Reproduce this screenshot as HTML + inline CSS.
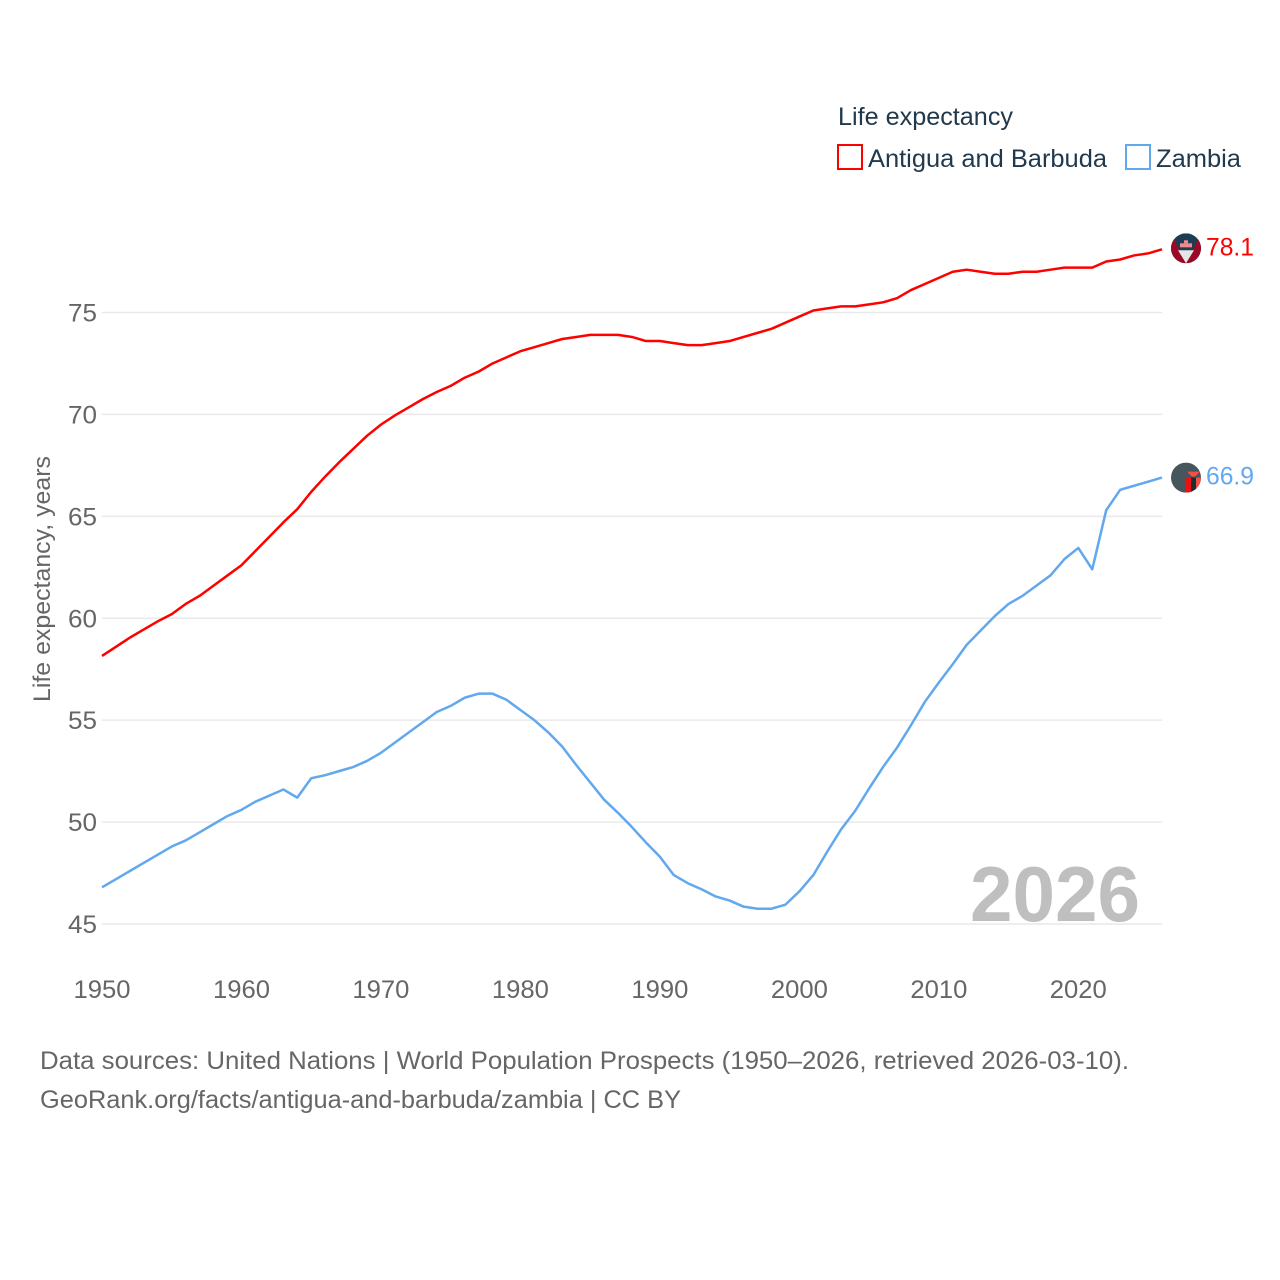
<!DOCTYPE html>
<html lang="en">
<head>
<meta charset="utf-8">
<title>Life expectancy: Antigua and Barbuda vs Zambia</title>
<style>
html,body{margin:0;padding:0;background:#fff;}
svg{display:block;}
text{font-family:"Liberation Sans",sans-serif;}
</style>
</head>
<body>
<svg id="chart" xmlns="http://www.w3.org/2000/svg" width="1280" height="1280" viewBox="0 0 1280 1280">
  <rect width="1280" height="1280" fill="#fff"/>
  <defs>
    <clipPath id="flag-clip-ag"><circle id="clip-ag" r="15"/></clipPath>
    <clipPath id="flag-clip-zm"><circle id="clip-zm" r="15"/></clipPath>
  </defs>
  <g id="grid"></g>
  <g id="y-ticks"></g>
  <g id="x-ticks"></g>
  <text x="970" y="921" font-size="78" font-weight="bold" fill="#bfbfbf" textLength="170" lengthAdjust="spacingAndGlyphs">2026</text>
  <text transform="translate(50,702) rotate(-90)" font-size="24" fill="#666" textLength="246" lengthAdjust="spacingAndGlyphs">Life expectancy, years</text>
  <g id="series"></g>
  <g id="flags"></g>
  <g>
    <text x="838" y="125" font-size="25" fill="#21394c" textLength="175" lengthAdjust="spacingAndGlyphs">Life expectancy</text>
    <rect x="838" y="145" width="24" height="24" fill="#fff" stroke="#ff0000" stroke-width="2"/>
    <text x="868" y="167" font-size="25" fill="#21394c" textLength="239" lengthAdjust="spacingAndGlyphs">Antigua and Barbuda</text>
    <rect x="1126" y="145" width="24" height="24" fill="#fff" stroke="#62a8ee" stroke-width="2"/>
    <text x="1156" y="167" font-size="25" fill="#21394c" textLength="85" lengthAdjust="spacingAndGlyphs">Zambia</text>
  </g>
  <text x="40" y="1069" font-size="25" fill="#666" textLength="1089" lengthAdjust="spacingAndGlyphs">Data sources: United Nations | World Population Prospects (1950–2026, retrieved 2026-03-10).</text>
  <text x="40" y="1108" font-size="25" fill="#666" textLength="641" lengthAdjust="spacingAndGlyphs">GeoRank.org/facts/antigua-and-barbuda/zambia | CC BY</text>
</svg>
<script>
const startYear = 1950;
const xTickYears = [1950, 1960, 1970, 1980, 1990, 2000, 2010, 2020];
const yTickValues = [45, 50, 55, 60, 65, 70, 75];
const antiguaValues = [
  58.15, 58.6, 59.05, 59.45, 59.85, 60.2, 60.7, 61.1, 61.6, 62.1,
  62.6, 63.3, 64.0, 64.7, 65.35, 66.2, 66.95, 67.65, 68.3, 68.95,
  69.5, 69.95, 70.35, 70.75, 71.1, 71.4, 71.8, 72.1, 72.5, 72.8,
  73.1, 73.3, 73.5, 73.7, 73.8, 73.9, 73.9, 73.9, 73.8, 73.6,
  73.6, 73.5, 73.4, 73.4, 73.5, 73.6, 73.8, 74.0, 74.2, 74.5,
  74.8, 75.1, 75.2, 75.3, 75.3, 75.4, 75.5, 75.7, 76.1, 76.4,
  76.7, 77.0, 77.1, 77.0, 76.9, 76.9, 77.0, 77.0, 77.1, 77.2,
  77.2, 77.2, 77.5, 77.6, 77.8, 77.9, 78.1
];
const zambiaValues = [
  46.8, 47.2, 47.6, 48.0, 48.4, 48.8, 49.1, 49.5, 49.9, 50.3,
  50.6, 51.0, 51.3, 51.6, 51.2, 52.15, 52.3, 52.5, 52.7, 53.0,
  53.4, 53.9, 54.4, 54.9, 55.4, 55.7, 56.1, 56.3, 56.3, 56.0,
  55.5, 55.0, 54.4, 53.7, 52.8, 51.95, 51.1, 50.45, 49.75, 49.0,
  48.3, 47.4, 47.0, 46.7, 46.35, 46.15, 45.85, 45.75, 45.75, 45.95,
  46.6, 47.4, 48.55, 49.65, 50.55, 51.65, 52.7, 53.65, 54.75, 55.9,
  56.85, 57.75, 58.7, 59.4, 60.1, 60.7, 61.1, 61.6, 62.1, 62.9,
  63.45, 62.4, 65.3, 66.3, 66.5, 66.7, 66.9
];
const antiguaLabel = "78.1";
const zambiaLabel = "66.9";

const NS = "http://www.w3.org/2000/svg";
const xScale = function (year) { return 102 + (year - 1950) * (1162 - 102) / 76; };
const yScale = function (v) { return 924 - (v - 45) * (924 - 312.5) / 30; };

function make(tag, attrs, parent) {
  const el = document.createElementNS(NS, tag);
  for (const k in attrs) { el.setAttribute(k, attrs[k]); }
  parent.appendChild(el);
  return el;
}

const grid = document.getElementById("grid");
const yTicks = document.getElementById("y-ticks");
const xTicks = document.getElementById("x-ticks");
const series = document.getElementById("series");
const flags = document.getElementById("flags");

yTickValues.forEach(function (v) {
  const line = make("line", { x1: 102, x2: 1162, y1: yScale(v), y2: yScale(v), stroke: "#e9e9e9", "stroke-width": 1.5 }, grid);
  
  
  const t = make("text", { x: 97, y: yScale(v) + 9, "text-anchor": "end", "font-size": 25, fill: "#666", textLength: 29, lengthAdjust: "spacingAndGlyphs" }, yTicks);
  
  
  t.textContent = String(v);
});

xTickYears.forEach(function (y) {
  const t = make("text", { x: xScale(y), y: 998, "text-anchor": "middle", "font-size": 25, fill: "#666", textLength: 57, lengthAdjust: "spacingAndGlyphs" }, xTicks);
  
  
  t.textContent = String(y);
});

function linePath(values) {
  return values.map(function (v, i) {
    return (i ? "L" : "M") + xScale(startYear + i).toFixed(2) + " " + yScale(v).toFixed(2);
  }).join(" ");
}

const antiguaLine = make("path", { d: linePath(antiguaValues), fill: "none", stroke: "#ff0000", "stroke-width": 2.5, "stroke-linejoin": "round" }, series);



const zambiaLine = make("path", { d: linePath(zambiaValues), fill: "none", stroke: "#62a8ee", "stroke-width": 2.5, "stroke-linejoin": "round" }, series);



const cx = 1186;
const agY = yScale(antiguaValues[antiguaValues.length - 1]) - 1;
const zmY = yScale(zambiaValues[zambiaValues.length - 1]);
document.getElementById("clip-ag").setAttribute("cx", cx);
document.getElementById("clip-ag").setAttribute("cy", agY);
document.getElementById("clip-zm").setAttribute("cx", cx);
document.getElementById("clip-zm").setAttribute("cy", zmY);

const agFlag = make("g", { "clip-path": "url(#flag-clip-ag)" }, flags);


make("rect", { x: cx - 15, y: agY - 15, width: 30, height: 30, fill: "#1e3d52" }, agFlag);
make("polygon", { points: (cx - 15) + "," + (agY - 15) + " " + cx + "," + (agY + 15) + " " + (cx - 15) + "," + (agY + 15), fill: "#9a0a26" }, agFlag);
make("polygon", { points: (cx + 15) + "," + (agY - 15) + " " + cx + "," + (agY + 15) + " " + (cx + 15) + "," + (agY + 15), fill: "#9a0a26" }, agFlag);
make("rect", { x: cx - 6, y: agY - 5, width: 12, height: 4, fill: "#f08a8a" }, agFlag);
make("rect", { x: cx - 2, y: agY - 8, width: 4, height: 3, fill: "#f08a8a" }, agFlag);
make("polygon", { points: (cx - 8) + "," + (agY + 2) + " " + (cx + 8) + "," + (agY + 2) + " " + cx + "," + (agY + 15), fill: "#e6e6e6" }, agFlag);

const zmFlag = make("g", { "clip-path": "url(#flag-clip-zm)" }, flags);


make("rect", { x: cx - 15, y: zmY - 15, width: 30, height: 30, fill: "#47565c" }, zmFlag);
make("rect", { x: cx, y: zmY, width: 5, height: 15, fill: "#f01010" }, zmFlag);
make("rect", { x: cx + 5, y: zmY, width: 5, height: 15, fill: "#1c2c38" }, zmFlag);
make("rect", { x: cx + 10, y: zmY, width: 5, height: 15, fill: "#f0524a" }, zmFlag);
make("polygon", { points: (cx + 1) + "," + (zmY - 6) + " " + (cx + 14) + "," + (zmY - 6) + " " + (cx + 9) + "," + (zmY - 1) + " " + (cx + 6) + "," + (zmY - 1), fill: "#f0524a" }, zmFlag);

const agLabel = make("text", { x: 1206, y: agY + 7, "font-size": 25, fill: "#ff0000", textLength: 48, lengthAdjust: "spacingAndGlyphs" }, flags);


agLabel.textContent = antiguaLabel;

const zmLabel = make("text", { x: 1206, y: zmY + 7, "font-size": 25, fill: "#62a8ee", textLength: 48, lengthAdjust: "spacingAndGlyphs" }, flags);


zmLabel.textContent = zambiaLabel;
</script>
</body>
</html>
